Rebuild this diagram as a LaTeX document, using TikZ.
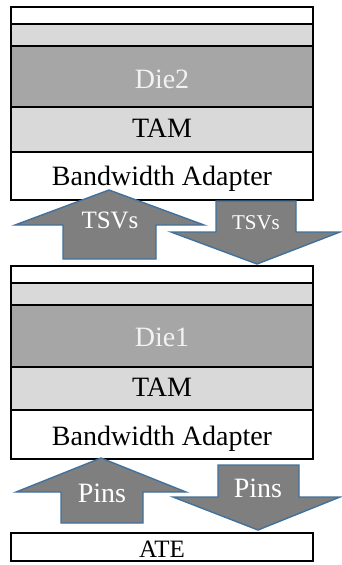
\documentclass[tikz,border=0pt]{standalone}
\usepackage{fontspec}
\setmainfont{Liberation Serif}
\begin{document}
\begin{tikzpicture}[x=1pt,y=-1pt,
  layer/.style={draw=black, line width=2pt, inner sep=0pt, outer sep=0pt,
                minimum width=302pt, anchor=north west},
  blank/.style={layer, fill=white},
  pale/.style={layer, fill=paleGray},
  core/.style={layer, fill=dieGray},
  flow/.style={fill=arrowGray, draw=arrowBlue, line width=1.4pt, line join=miter},
  lbl/.style={inner sep=0pt, anchor=base, font=\fontsize{28}{32}\selectfont},
  lightlbl/.style={lbl, text=white},
]
\definecolor{paleGray}{HTML}{D9D9D9}
\definecolor{dieGray}{HTML}{A6A6A6}
\definecolor{arrowGray}{HTML}{7F7F7F}
\definecolor{arrowBlue}{HTML}{41719C}
\useasboundingbox (0,0) rectangle (341,565);

% upper die stack
\node[blank, minimum height=17pt] (capB) at (11,7) {};
\node[pale,  minimum height=22pt] (padB) at (11,24) {};
\node[core,  minimum height=61pt] (dieB) at (11,46) {};
\node[pale,  minimum height=45pt] (tamB) at (11,107) {};
\node[blank, minimum height=48pt] (bwaB) at (11,152) {};

% lower die stack
\node[blank, minimum height=17pt] (capA) at (11,266) {};
\node[pale,  minimum height=22pt] (padA) at (11,283) {};
\node[core,  minimum height=62pt] (dieA) at (11,305) {};
\node[pale,  minimum height=43pt] (tamA) at (11,367) {};
\node[blank, minimum height=49pt] (bwaA) at (11,410) {};

% tester
\node[blank, minimum height=28pt] (ate) at (11,533) {};

% layer labels
\node[lightlbl, text=white!95!black] (dieBt) at (162,88) {Die2};
\node[lbl] (tamBt) at (162,137) {TAM};
\node[lbl] (bwaBt) at (162,185) {Bandwidth Adapter};
\node[lightlbl, text=white!95!black] (dieAt) at (162,346) {Die1};
\node[lbl] (tamAt) at (162,396) {TAM};
\node[lbl] (bwaAt) at (162,445) {Bandwidth Adapter};
\node[lbl, font=\fontsize{25}{29}\selectfont] (atet) at (162,557) {ATE};

% block arrows between the upper and lower die
\draw[flow] (109,190) -- (204,225) -- (156,225) -- (156,259) -- (63,259)
  -- (63,225) -- (15,225) -- cycle;
\draw[flow] (216,201) -- (296,201) -- (296,232) -- (340,232) -- (257,264)
  -- (171,232) -- (216,232) -- cycle;
\node[lightlbl, font=\fontsize{25}{29}\selectfont] (tsvUp) at (110,228) {TSVs};
\node[lightlbl, font=\fontsize{21}{25}\selectfont] (tsvDown) at (256,229) {TSVs};

% block arrows between the lower die and the tester
\draw[flow] (101,458) -- (186,492) -- (143,492) -- (143,523) -- (61,523)
  -- (61,492) -- (16,492) -- cycle;
\draw[flow] (218,465) -- (299,465) -- (299,497) -- (340,497) -- (258,530)
  -- (173,497) -- (218,497) -- cycle;
\node[lightlbl] (pinUp) at (102,502) {Pins};
\node[lightlbl] (pinDown) at (258,497) {Pins};
\end{tikzpicture}
\end{document}
